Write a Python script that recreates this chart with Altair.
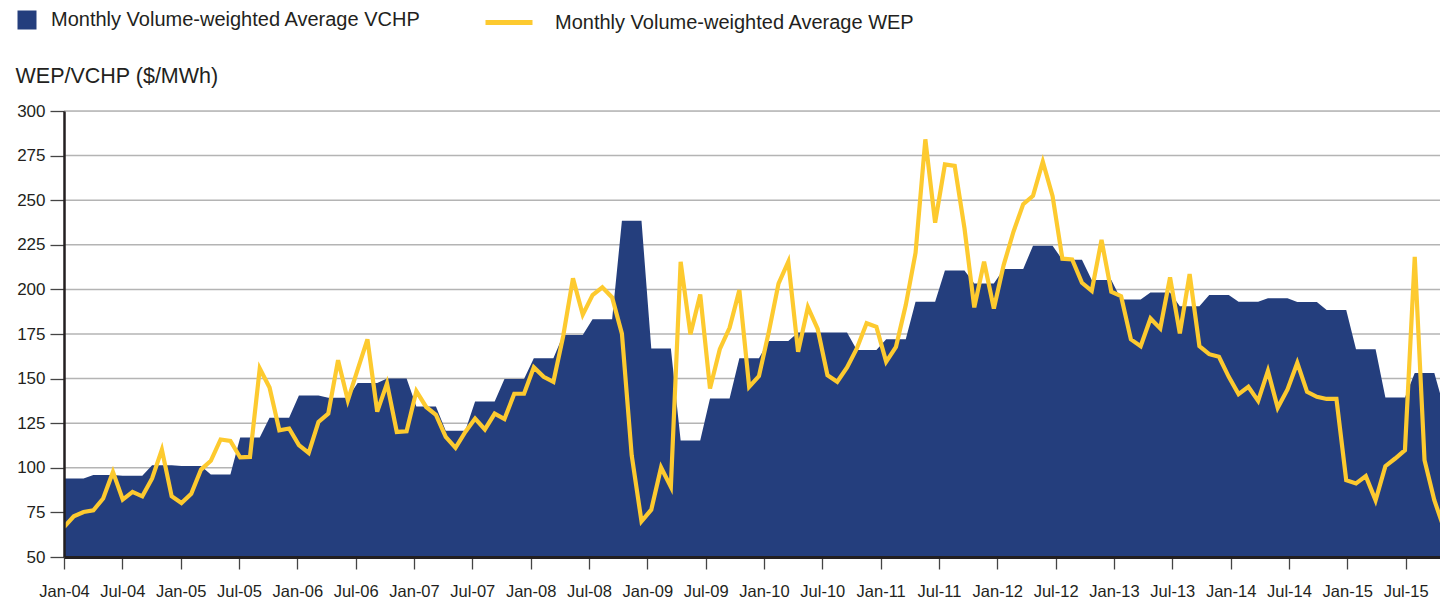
import json
import altair as alt
import pandas as pd

NAVY = "#243E7D"
YELLOW = "#FDCA2F"
INK = "#231F20"
GRID = "#B4B4B4"
FONT = "Liberation Sans"

VCHP_LABEL = "Monthly Volume-weighted Average VCHP"
WEP_LABEL = "Monthly Volume-weighted Average WEP"
Y_TITLE = "WEP/VCHP ($/MWh)"

# Quarterly VCHP (each value holds for three months), 2004 Q1 .. 2015 Q4
VCHP_QUARTERLY = [
    94.0, 96.0, 95.6, 101.4,
    101.0, 96.2, 117.0, 128.0,
    140.5, 139.2, 147.6, 150.0,
    134.3, 120.8, 137.2, 149.8,
    161.4, 174.5, 183.2, 238.5,
    166.9, 115.3, 138.8, 161.4,
    171.1, 175.8, 175.8, 166.0,
    172.1, 193.1, 210.6, 203.3,
    211.4, 224.5, 216.6, 205.2,
    194.4, 198.3, 190.6, 196.8,
    193.1, 195.0, 192.9, 188.4,
    166.5, 139.4, 153.2, 133.6,
]

# Monthly WEP, Jan-04 .. Nov-15
WEP_MONTHLY = [
    66.8, 72.8, 75.2, 76.2, 82.8, 97.7, 82.2, 86.5, 84.0, 94.0, 110.2, 84.0,
    80.3, 85.5, 99.0, 103.9, 115.9, 115.1, 105.8, 106.1, 155.7, 145.0, 121.0, 122.0,
    112.7, 108.3, 125.7, 130.4, 160.3, 137.9, 155.0, 172.0, 131.5, 147.3, 120.1, 120.5,
    143.0, 134.1, 129.7, 117.3, 111.2, 120.1, 127.6, 121.5, 130.4, 127.3, 141.5, 141.5,
    156.4, 151.0, 148.2, 173.8, 206.2, 185.8, 196.8, 201.2, 195.5, 175.2, 107.0, 70.0,
    76.5, 100.2, 89.3, 215.5, 174.9, 197.2, 144.5, 166.5, 178.5, 199.6, 145.4, 151.4,
    176.0, 203.2, 215.5, 165.0, 190.0, 177.8, 151.9, 148.2, 156.2, 166.9, 181.0, 179.0,
    159.4, 167.8, 191.2, 220.5, 284.1, 237.4, 270.1, 269.2, 234.2, 189.9, 215.5, 189.3,
    213.6, 232.3, 247.8, 252.5, 271.6, 252.2, 217.2, 216.8, 203.7, 199.2, 227.7, 198.7,
    196.2, 172.0, 168.2, 183.7, 178.1, 206.7, 175.3, 208.6, 168.2, 163.7, 162.2, 151.0,
    141.3, 145.4, 137.5, 154.3, 133.6, 143.9, 158.8, 142.6, 139.8, 138.6, 138.6, 93.0,
    91.2, 95.3, 81.8, 100.9, 105.2, 109.9, 218.3, 104.2, 81.8, 65.9, 53.0,
]

TICK_LABELS = [
    "Jan-04", "Jul-04", "Jan-05", "Jul-05", "Jan-06", "Jul-06",
    "Jan-07", "Jul-07", "Jan-08", "Jul-08", "Jan-09", "Jul-09",
    "Jan-10", "Jul-10", "Jan-11", "Jul-11", "Jan-12", "Jul-12",
    "Jan-13", "Jul-13", "Jan-14", "Jul-14", "Jan-15", "Jul-15",
]
TICK_STEP = 6
Y_TICKS = [50, 75, 100, 125, 150, 175, 200, 225, 250, 275, 300]

PLOT_W = 1376
DATA_X_END = PLOT_W / 9.788
AXIS_X_END = PLOT_W / 9.722

vchp_df = pd.DataFrame({
    "month": list(range(len(VCHP_QUARTERLY) * 3)),
    "vchp": [v for v in VCHP_QUARTERLY for _ in range(3)],
    "series": VCHP_LABEL,
})
wep_df = pd.DataFrame({
    "month": list(range(len(WEP_MONTHLY))),
    "wep": WEP_MONTHLY,
    "series": WEP_LABEL,
})
tick_df = pd.DataFrame({
    "pos": [TICK_STEP * k for k in range(len(TICK_LABELS))],
    "label": TICK_LABELS,
})
grid_df = pd.DataFrame({"v": Y_TICKS[1:]})

yscale = alt.Scale(domain=[Y_TICKS[0], Y_TICKS[-1]], nice=False, zero=False)
xdata = alt.Scale(domain=[0, DATA_X_END], nice=False, zero=False)

Y_AXIS = alt.Axis(
    values=Y_TICKS, title=Y_TITLE, titleAngle=0, titleAlign="left",
    titleBaseline="alphabetic", titleX=-49, titleY=-29, titleFont=FONT,
    titleFontSize=21.5, titleFontWeight="normal", titleColor=INK,
    labelFont=FONT, labelFontSize=17, labelColor=INK, labelPadding=5,
    tickSize=14, tickColor="#444444", tickWidth=1.3,
    domainColor=INK, domainWidth=2.5, grid=False, zindex=1,
)

grid = alt.Chart(grid_df).mark_rule(color=GRID, strokeWidth=1.5).encode(
    y=alt.Y("v:Q", scale=yscale, axis=Y_AXIS)
)

area = alt.Chart(vchp_df).mark_area(clip=True, interpolate="linear").encode(
    x=alt.X("month:Q", scale=xdata, axis=None),
    y=alt.Y("vchp:Q", scale=yscale, axis=Y_AXIS),
    fill=alt.Fill(
        "series:N",
        scale=alt.Scale(domain=[VCHP_LABEL], range=[NAVY]),
        legend=alt.Legend(
            orient="none", legendX=-47, legendY=-101, title=None, padding=0,
            symbolType="square", symbolSize=361, symbolStrokeWidth=0,
            symbolOpacity=1, labelFont=FONT, labelFontSize=20, labelColor=INK,
            labelOffset=14, labelLimit=0,
        ),
    ),
)

line = alt.Chart(wep_df).mark_line(clip=True, strokeWidth=4.2).encode(
    x=alt.X("month:Q", scale=xdata, axis=None),
    y=alt.Y("wep:Q", scale=yscale, axis=Y_AXIS),
    stroke=alt.Stroke(
        "series:N",
        scale=alt.Scale(domain=[WEP_LABEL], range=[YELLOW]),
        legend=alt.Legend(
            orient="none", legendX=419, legendY=-114.5, title=None, padding=0,
            symbolType="stroke", symbolSize=2209, symbolStrokeWidth=5,
            labelFont=FONT, labelFontSize=20, labelColor=INK,
            labelOffset=20, labelLimit=0,
        ),
    ),
)

label_expr = json.dumps(TICK_LABELS) + "[round(datum.value / %d)]" % TICK_STEP

xaxis_layer = alt.Chart(tick_df).mark_point(opacity=0).encode(
    x=alt.X(
        "pos:Q",
        scale=alt.Scale(domain=[0, AXIS_X_END], nice=False, zero=False),
        axis=alt.Axis(
            values=tick_df["pos"].tolist(), labelExpr=label_expr, orient="bottom",
            title=None, labelFont=FONT, labelFontSize=16.5, labelColor=INK,
            labelPadding=14, labelOverlap=False, labelFlush=False,
            tickSize=12, tickColor="#444444", tickWidth=1.3,
            domainColor=INK, domainWidth=3, grid=False, zindex=1,
        ),
    )
)

chart = (
    alt.layer(grid, area, line, xaxis_layer)
    .resolve_scale(x="independent", fill="independent", stroke="independent")
    .properties(
        width=PLOT_W, height=446,
        autosize=alt.AutoSizeParams(type="none"),
        padding={"left": 56, "top": 103, "right": 0, "bottom": 45},
    )
    .configure_view(stroke=None)
    .configure(background="white")
)

chart.save("out.html", embed_options={"renderer": "svg", "actions": False})
